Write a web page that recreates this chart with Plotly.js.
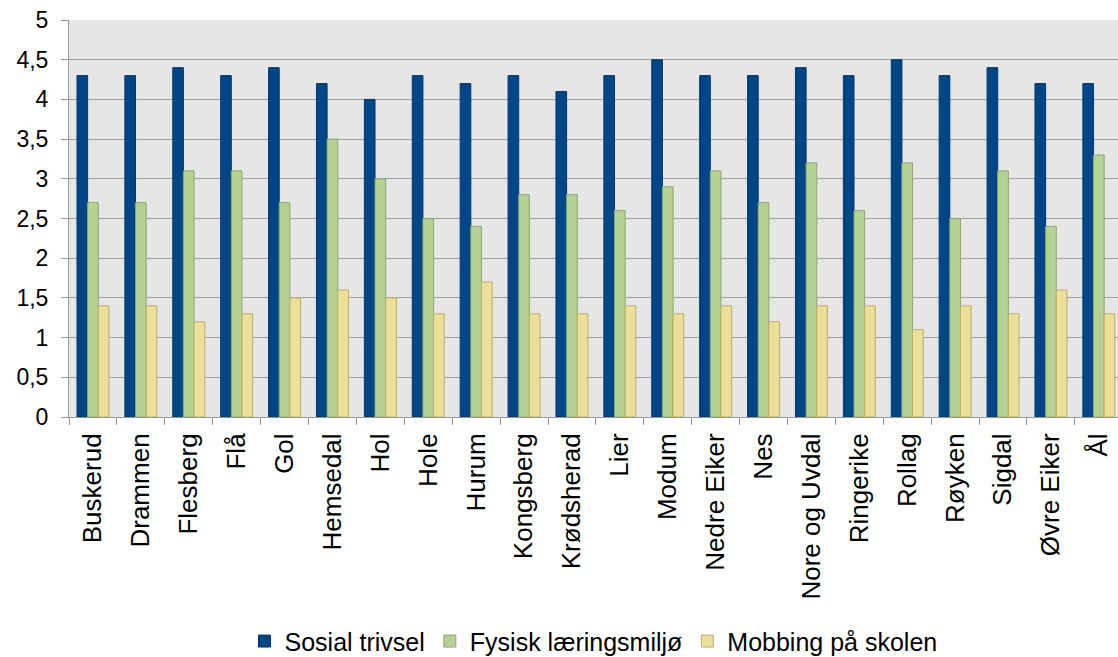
<!DOCTYPE html>
<html><head><meta charset="utf-8">
<script src="https://cdn.plot.ly/plotly-3.0.1.min.js"></script>
<style>html,body{margin:0;padding:0;background:#fff;}#chart{width:1118px;height:657px;}</style>
</head><body><div id="chart"></div>
<script>
const categories = ["Buskerud","Drammen","Flesberg","Flå","Gol","Hemsedal","Hol","Hole","Hurum","Kongsberg","Krødsherad","Lier","Modum","Nedre Eiker","Nes","Nore og Uvdal","Ringerike","Rollag","Røyken","Sigdal","Øvre Eiker","Ål"];
const sosialTrivsel = [4.3,4.3,4.4,4.3,4.4,4.2,4.0,4.3,4.2,4.3,4.1,4.3,4.5,4.3,4.3,4.4,4.3,4.5,4.3,4.4,4.2,4.2];
const fysiskLaeringsmiljo = [2.7,2.7,3.1,3.1,2.7,3.5,3.0,2.5,2.4,2.8,2.8,2.6,2.9,3.1,2.7,3.2,2.6,3.2,2.5,3.1,2.4,3.3];
const mobbingPaSkolen = [1.4,1.4,1.2,1.3,1.5,1.6,1.5,1.3,1.7,1.3,1.3,1.4,1.3,1.4,1.2,1.4,1.4,1.1,1.4,1.3,1.6,1.3];
const seriesNames = ["Sosial trivsel","Fysisk læringsmiljø","Mobbing på skolen"];
const yTicks = [0,0.5,1,1.5,2,2.5,3,3.5,4,4.5,5];

const fontFam = "Liberation Sans, Arial, sans-serif";
function mk(name, y, fill, line){
  return {type:"bar", name:name, x:categories, y:y,
    marker:{color:fill, line:{color:line, width:1}}, hoverinfo:"none"};
}
const data = [
  mk(seriesNames[0], sosialTrivsel, "#004586", "#003a70"),
  mk(seriesNames[1], fysiskLaeringsmiljo, "#b6d194", "#8ea86c"),
  mk(seriesNames[2], mobbingPaSkolen, "#ebdf99", "#bfae6a")
];
const layout = {
  width:1118, height:657,
  margin:{l:69, r:0, t:20, b:240, autoexpand:false},
  paper_bgcolor:"#ffffff", plot_bgcolor:"#e6e6e6",
  separators:", ",
  barmode:"group", bargap:0.333, bargroupgap:0,
  font:{family:fontFam, size:19, color:"#000"},
  showlegend:true,
  legend:{orientation:"h", x:0.5, xanchor:"center", y:-0.565, yanchor:"middle",
    font:{family:fontFam, size:25, color:"#000"}, itemwidth:20, traceorder:"normal"},
  xaxis:{type:"category", range:[-0.5, 21.4], tickangle:-90, automargin:false,
    ticks:"outside", tickson:"boundaries", ticklen:7, tickcolor:"#9a9a9a",
    showline:true, linecolor:"#9a9a9a", linewidth:1, showgrid:false, ticklabelstandoff:5,
    tickfont:{family:fontFam, size:26, color:"#000"}, fixedrange:true},
  yaxis:{range:[0,5], tickvals:yTicks, ticks:"outside", ticklen:7, tickcolor:"#9a9a9a", automargin:false,
    showline:true, linecolor:"#9a9a9a", linewidth:1, showgrid:true, gridcolor:"#a0a0a0", gridwidth:1,
    zeroline:false, tickfont:{family:fontFam, size:23, color:"#000"}, ticklabelstandoff:8}
};
Plotly.newPlot("chart", data, layout, {staticPlot:true, displayModeBar:false});
</script>
</body></html>
